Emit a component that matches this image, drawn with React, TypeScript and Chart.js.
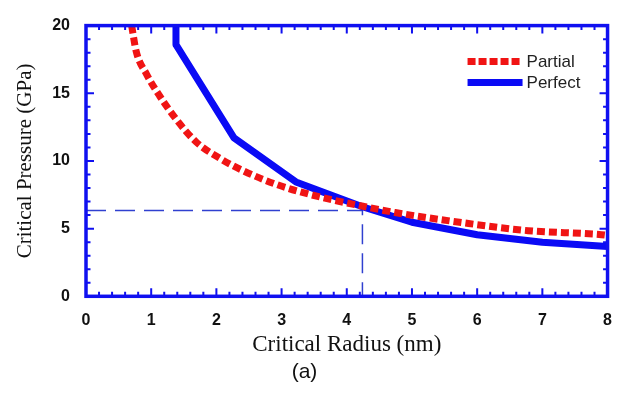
import React, { useEffect, useRef } from "react";
import { Chart, registerables } from "chart.js";

Chart.register(...registerables);

const partialRadius = [0.7, 0.77, 0.93, 1.13, 1.38, 1.69, 2.05, 2.4, 2.96, 3.57, 4.25, 4.74, 5.76, 6.78, 7.87, 8.0];
const partialPressure = [20, 18.1, 16.4, 14.8, 13.1, 11.4, 10.2, 9.3, 8.2, 7.36, 6.65, 6.19, 5.45, 4.85, 4.57, 4.5];

const perfectRadius = [1.38, 1.38, 2.27, 3.22, 4.25, 5.0, 6.0, 7.0, 8.0];
const perfectPressure = [20, 18.6, 11.7, 8.45, 6.6, 5.47, 4.55, 4.0, 3.68];

const guideRadius = [0, 4.24, 4.24];
const guidePressure = [6.33, 6.33, 0];

const seriesLabels = ["Partial", "Perfect"];
const xTitle = "Critical Radius (nm)";
const yTitle = "Critical Pressure (GPa)";
const panelLabel = "(a)";

const RED = "#f01414";
const BLUE = "#0a0af5";
const FRAME = "#1010f0";

const toPoints = (xs: number[], ys: number[]) => xs.map((x, i) => ({ x, y: ys[i] }));

const framePlugin = {
  id: "frameTicks",
  afterDatasetsDraw(chart: any) {
    const { ctx, chartArea, scales } = chart;
    const xs = scales.x;
    const ys = scales.y;
    const { left, right, top, bottom } = chartArea;
    ctx.save();
    ctx.strokeStyle = FRAME;
    ctx.lineWidth = 2;
    const drawX = (v: number, len: number) => {
      const px = xs.getPixelForValue(v);
      ctx.beginPath();
      ctx.moveTo(px, bottom);
      ctx.lineTo(px, bottom - len);
      ctx.moveTo(px, top);
      ctx.lineTo(px, top + len);
      ctx.stroke();
    };
    const drawY = (v: number, len: number) => {
      const py = ys.getPixelForValue(v);
      ctx.beginPath();
      ctx.moveTo(left, py);
      ctx.lineTo(left + len, py);
      ctx.moveTo(right, py);
      ctx.lineTo(right - len, py);
      ctx.stroke();
    };
    for (let i = 0; i <= 40; i++) {
      drawX(i * 0.2, i % 5 === 0 ? 8 : 4.5);
    }
    for (let i = 0; i <= 20; i++) {
      drawY(i, i % 5 === 0 ? 8 : 4.5);
    }
    ctx.lineWidth = 3.5;
    ctx.strokeRect(left, top, right - left, bottom - top);
    ctx.restore();
  },
};

const legendPlugin = {
  id: "insideLegend",
  afterDraw(chart: any) {
    const { ctx, chartArea } = chart;
    const x0 = chartArea.right - 140;
    const x1 = x0 + 55;
    const rows = [chartArea.top + 36, chartArea.top + 57];
    ctx.save();
    [0, 1].forEach((i) => {
      const ds = chart.data.datasets[i];
      ctx.beginPath();
      ctx.strokeStyle = ds.borderColor;
      ctx.lineWidth = 7;
      ctx.lineCap = "butt";
      ctx.setLineDash(i === 0 ? [8, 3] : []);
      ctx.moveTo(x0, rows[i]);
      ctx.lineTo(x1, rows[i]);
      ctx.stroke();
      ctx.setLineDash([]);
      ctx.fillStyle = "#222";
      ctx.font = "17px 'Liberation Sans', Arial, sans-serif";
      ctx.textBaseline = "middle";
      ctx.textAlign = "left";
      ctx.fillText(ds.label, x1 + 4, rows[i] + 1);
    });
    ctx.restore();
  },
};

export default function App() {
  const ref = useRef<HTMLCanvasElement | null>(null);

  useEffect(() => {
    document.body.style.margin = "0";
    const canvas = ref.current;
    if (!canvas) return;
    const chart = new Chart(canvas, {
      type: "line",
      data: {
        datasets: [
          {
            label: seriesLabels[0],
            data: toPoints(partialRadius, partialPressure),
            borderColor: RED,
            borderWidth: 7,
            borderDash: [8, 4],
            borderCapStyle: "butt",
            pointRadius: 0,
            cubicInterpolationMode: "monotone",
            fill: false,
          },
          {
            label: seriesLabels[1],
            data: toPoints(perfectRadius, perfectPressure),
            borderColor: BLUE,
            borderWidth: 7,
            borderJoinStyle: "round",
            pointRadius: 0,
            tension: 0,
            fill: false,
          },
          {
            label: "guide",
            data: toPoints(guideRadius, guidePressure),
            borderColor: "#3040d0",
            borderWidth: 1.5,
            borderDash: [20, 9],
            pointRadius: 0,
            tension: 0,
            fill: false,
          },
        ],
      } as any,
      options: {
        animation: false,
        responsive: false,
        maintainAspectRatio: false,
        layout: { padding: { top: 17, right: 18, left: 0, bottom: 0 } },
        plugins: {
          legend: { display: false },
          tooltip: { enabled: false },
          title: {
            display: true,
            text: panelLabel,
            position: "bottom",
            color: "#111",
            font: { family: "'Liberation Sans', Arial, sans-serif", size: 21, weight: "normal" },
            padding: { top: 0, bottom: 8 },
          },
        },
        scales: {
          x: {
            type: "linear",
            min: 0,
            max: 8,
            afterFit: (s: any) => {
              s.height = 63.5;
            },
            grid: { display: false, drawTicks: false },
            border: { display: false },
            ticks: {
              stepSize: 1,
              padding: 15,
              color: "#111",
              font: { family: "'Liberation Sans', Arial, sans-serif", size: 16, weight: "bold" },
            },
            title: {
              display: true,
              text: xTitle,
              color: "#111",
              font: { family: "'Liberation Serif', 'Times New Roman', serif", size: 23 },
              padding: { top: 0, bottom: 1 },
            },
          },
          y: {
            type: "linear",
            min: 0,
            max: 20,
            afterFit: (s: any) => {
              s.width = 86;
            },
            grid: { display: false, drawTicks: false },
            border: { display: false },
            ticks: {
              stepSize: 5,
              padding: 16,
              color: "#111",
              font: { family: "'Liberation Sans', Arial, sans-serif", size: 16, weight: "bold" },
            },
            title: {
              display: true,
              text: yTitle,
              color: "#111",
              font: { family: "'Liberation Serif', 'Times New Roman', serif", size: 21 },
              padding: { top: 13, bottom: 0 },
            },
          },
        },
      } as any,
      plugins: [framePlugin, legendPlugin],
    });
    return () => chart.destroy();
  }, []);

  return (
    <div style={{ position: "absolute", left: 0, top: 0, width: 627, height: 393, background: "#fff" }}>
      <canvas ref={ref} width={627} height={393} style={{ display: "block" }} />
    </div>
  );
}
